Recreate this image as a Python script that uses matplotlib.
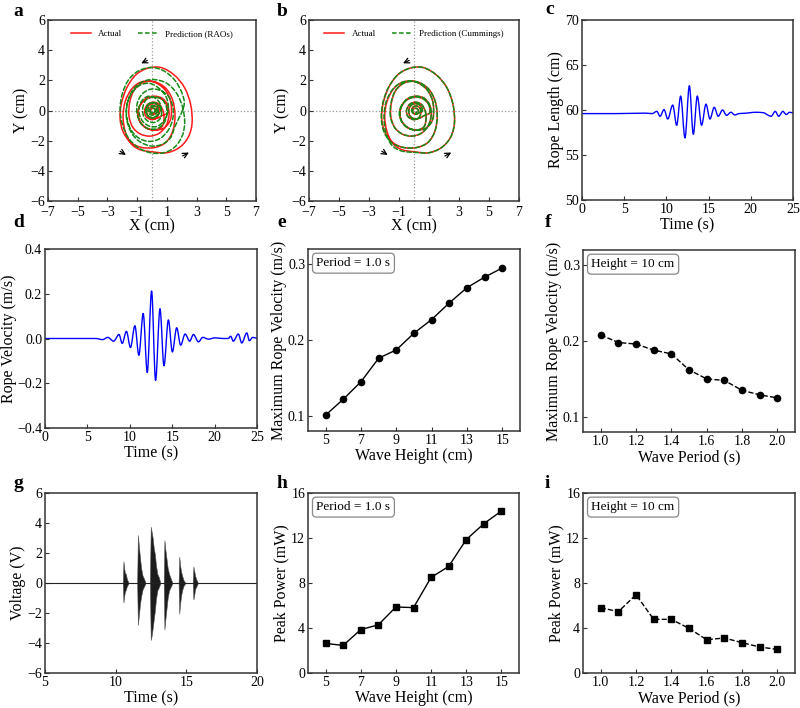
import matplotlib
matplotlib.use("Agg")
import matplotlib.pyplot as plt
from matplotlib.path import Path
from matplotlib.patches import PathPatch

plt.rcParams['font.family'] = ['Liberation Serif', 'DejaVu Serif']
plt.rcParams['mathtext.fontset'] = 'stix'

# ---------------- data ----------------
# (a)/(b) trajectory: actual
actual_x = [0.30, 0.27, 0.20, 0.10, 0.00, -0.07, -0.10, -0.07, 0.00, 0.10, 0.22, 0.32,
            0.55, 0.50, 0.35, 0.10, -0.15, -0.30, -0.35, -0.30, -0.15, 0.10, 0.40, 0.65,
            1.05, 1.00, 0.65, 0.15, -0.40, -0.80, -0.95, -0.80, -0.40, 0.15, 0.75, 1.15,
            1.30, 1.25, 0.85, 0.10, -0.70, -1.35, -1.80, -1.95, -1.80, -1.40, -0.80, 0.10, 1.00, 1.85, 2.45,
            2.70, 2.60, 2.20, 1.50, 0.60, -0.30, -1.10, -1.70, -2.05, -2.15, -1.95, -1.45, -0.70, 0.20, 0.95, 1.40,
            1.55, 1.40, 0.95, 0.20, -0.60, -1.20, -1.50, -1.55, -1.30, -0.80, -0.15, 0.50, 0.95,
            1.15, 1.05, 0.70, 0.15, -0.40, -0.80, -0.95, -0.80, -0.40, 0.15, 0.65,
            0.80, 0.75, 0.50, 0.10, -0.30, -0.50, -0.40, -0.05, 0.30, 0.45, 0.40, 0.15, -0.10, -0.15, 0.05, 0.20]
actual_y = [-0.05, 0.05, 0.12, 0.15, 0.12, 0.05, -0.05, -0.15, -0.22, -0.25, -0.22, -0.16,
            -0.05, 0.20, 0.38, 0.45, 0.38, 0.20, -0.05, -0.30, -0.48, -0.55, -0.50, -0.35,
            -0.15, 0.35, 0.75, 0.90, 0.75, 0.35, -0.20, -0.75, -1.15, -1.30, -1.20, -0.80,
            -0.30, 0.60, 1.40, 1.90, 1.90, 1.45, 0.60, -0.40, -1.40, -2.20, -2.60, -2.75, -2.80, -2.45, -1.75,
            -0.80, 0.40, 1.50, 2.35, 2.85, 2.80, 2.35, 1.50, 0.50, -0.50, -1.40, -2.10, -2.45, -2.45, -2.10, -1.35,
            -0.35, 0.65, 1.45, 1.90, 1.85, 1.35, 0.55, -0.35, -1.10, -1.55, -1.70, -1.50, -1.00,
            -0.30, 0.35, 0.80, 0.95, 0.80, 0.35, -0.20, -0.75, -1.15, -1.30, -1.10,
            -0.60, -0.05, 0.40, 0.55, 0.40, 0.00, -0.40, -0.60, -0.50, -0.20, 0.15, 0.30, 0.20, -0.05, -0.20, -0.10]

# (a) prediction (RAOs)
rao_x = [0.20, 0.15, 0.05, -0.07, -0.13, -0.10, 0.00, 0.12,
         0.30, 0.22, 0.02, -0.18, -0.27, -0.18, 0.02, 0.22,
         0.42, 0.32, 0.02, -0.28, -0.40, -0.28, 0.02, 0.32,
         0.60, 0.55, 0.25, -0.20, -0.60, -0.85, -0.85, -0.60, -0.15, 0.35, 0.75, 1.00,
         1.10, 0.95, 0.50, -0.15, -0.85, -1.40, -1.70, -1.70, -1.40, -0.85, -0.10, 0.65, 1.25, 1.55,
         2.15, 2.00, 1.50, 0.75, -0.10, -0.95, -1.60, -2.00, -2.15, -2.00, -1.60, -0.95, -0.10, 0.80, 1.55, 2.05, 2.20,
         2.05, 1.65, 1.00, 0.15, -0.65, -1.30, -1.65, -1.70, -1.40, -0.85, -0.15, 0.55, 1.10, 1.40,
         1.40, 1.10, 0.50, -0.15, -0.70, -1.00, -1.00, -0.75, -0.25, 0.35, 0.80, 1.00,
         0.95, 0.65, 0.15, -0.35, -0.60, -0.60, -0.35, 0.10, 0.50, 0.65,
         0.55, 0.25, -0.10, -0.35, -0.40, -0.20, 0.15, 0.40, 0.35, 0.10, -0.10, -0.10, 0.10, 0.20]
rao_y = [0.00, 0.12, 0.18, 0.14, 0.02, -0.12, -0.18, -0.14,
         0.05, 0.25, 0.32, 0.24, 0.02, -0.22, -0.32, -0.24,
         0.05, 0.38, 0.50, 0.38, 0.02, -0.36, -0.50, -0.38,
         0.00, 0.45, 0.80, 0.95, 0.75, 0.30, -0.25, -0.75, -1.05, -1.05, -0.75, -0.30,
         0.25, 0.90, 1.45, 1.80, 1.65, 1.10, 0.30, -0.60, -1.45, -2.05, -2.35, -2.25, -1.80, -1.05,
         0.30, 1.20, 2.05, 2.65, 2.85, 2.60, 2.00, 1.10, 0.10, -0.90, -1.80, -2.45, -2.80, -2.80, -2.40, -1.65, -0.75,
         0.25, 1.15, 1.80, 2.05, 1.90, 1.35, 0.50, -0.45, -1.30, -1.85, -2.05, -1.85, -1.30, -0.55,
         0.25, 0.95, 1.35, 1.40, 1.05, 0.45, -0.25, -0.85, -1.20, -1.20, -0.85, -0.30,
         0.30, 0.75, 0.90, 0.75, 0.30, -0.25, -0.65, -0.80, -0.60, -0.20,
         0.25, 0.50, 0.50, 0.25, -0.10, -0.40, -0.45, -0.20, 0.15, 0.30, 0.15, -0.10, -0.15, 0.00]

# (b) prediction (Cummings)
cum_x = [0.30, 0.27, 0.20, 0.10, 0.00, -0.07, -0.10, -0.07, 0.00, 0.10, 0.22, 0.32,
         0.55, 0.50, 0.35, 0.10, -0.15, -0.30, -0.35, -0.30, -0.15, 0.10, 0.40, 0.65,
         1.05, 1.00, 0.65, 0.15, -0.40, -0.82, -0.98, -0.82, -0.40, 0.15, 0.75, 1.15,
         1.30, 1.25, 0.85, 0.10, -0.70, -1.38, -1.85, -2.00, -1.88, -1.50, -0.85, 0.10, 1.00, 1.85, 2.45,
         2.70, 2.60, 2.20, 1.50, 0.60, -0.30, -1.10, -1.72, -2.08, -2.18, -2.00, -1.50, -0.72, 0.20, 0.95, 1.40,
         1.55, 1.40, 0.95, 0.20, -0.60, -1.22, -1.52, -1.58, -1.32, -0.80, -0.15, 0.50, 0.95,
         1.15, 1.05, 0.70, 0.15, -0.40, -0.80, -0.95, -0.80, -0.40, 0.15, 0.65,
         0.80, 0.75, 0.50, 0.10, -0.30, -0.50, -0.40, -0.05, 0.30, 0.45, 0.40, 0.15, -0.10, -0.15, 0.05, 0.20]
cum_y = [-0.05, 0.05, 0.12, 0.15, 0.12, 0.05, -0.05, -0.15, -0.22, -0.25, -0.22, -0.16,
         -0.05, 0.20, 0.38, 0.45, 0.38, 0.20, -0.05, -0.30, -0.48, -0.55, -0.50, -0.35,
         -0.15, 0.35, 0.75, 0.90, 0.75, 0.35, -0.20, -0.75, -1.15, -1.30, -1.20, -0.80,
         -0.30, 0.60, 1.40, 1.90, 1.90, 1.45, 0.60, -0.40, -1.45, -2.28, -2.68, -2.78, -2.80, -2.45, -1.75,
         -0.80, 0.40, 1.50, 2.35, 2.85, 2.80, 2.35, 1.50, 0.50, -0.50, -1.42, -2.12, -2.45, -2.45, -2.10, -1.35,
         -0.35, 0.65, 1.45, 1.90, 1.85, 1.35, 0.55, -0.35, -1.10, -1.55, -1.70, -1.50, -1.00,
         -0.30, 0.35, 0.80, 0.95, 0.80, 0.35, -0.20, -0.75, -1.15, -1.30, -1.10,
         -0.60, -0.05, 0.40, 0.55, 0.40, 0.00, -0.40, -0.60, -0.50, -0.20, 0.15, 0.30, 0.20, -0.05, -0.20, -0.10]

# (c) rope length vs time (extrema)
c_time = [0, 4, 7.5, 8.3, 8.86, 9.25, 9.72, 10.16, 10.75, 11.22, 11.69, 12.2, 12.72, 13.19, 13.66,
          14.17, 14.69, 15.16, 15.67, 16.14, 16.65, 17.13, 17.64, 18.1, 18.6, 19.5, 20.5, 21.5,
          22.0, 22.4, 22.9, 23.3, 23.8, 24.2, 24.6, 25]
c_length = [59.6, 59.6, 59.65, 59.6, 59.85, 59.3, 60.05, 59.0, 60.55, 58.3, 61.55, 56.9, 62.7, 57.3, 61.55,
            58.3, 60.65, 59.0, 60.3, 59.3, 60.0, 59.4, 59.75, 59.45, 59.6, 59.65, 59.75, 59.7,
            59.45, 59.3, 59.85, 59.3, 59.85, 59.5, 59.75, 59.65]

# (d) rope velocity vs time (extrema)
d_time = [0, 6.0, 6.8, 7.4, 8.1, 8.73, 9.1, 9.6, 10.08, 10.6, 11.07, 11.58, 12.06, 12.57, 13.04,
          13.56, 14.03, 14.55, 15.02, 15.53, 16.0, 16.52, 17.07, 17.5, 18.1, 18.6, 19.3, 20.0,
          21.0, 21.6, 21.9, 22.2, 22.8, 23.2, 23.8, 24.1, 24.5, 25]
d_velocity = [0, 0, -0.005, 0.005, -0.012, 0.018, -0.022, 0.032, -0.04, 0.057, -0.075, 0.112, -0.152, 0.212, -0.187,
              0.133, -0.122, 0.083, -0.06, 0.048, -0.03, 0.02, -0.012, 0.018, -0.015, 0.005, -0.003, 0.003,
              0.0, 0.0, 0.01, -0.012, 0.02, -0.02, 0.025, -0.01, 0.005, 0.0]

# (g) voltage bursts: envelope (time, upper, lower)
g_bursts_t = [[10.50, 10.55, 10.60, 10.65, 10.72, 10.80, 10.90],
              [11.52, 11.57, 11.65, 11.72, 11.80, 11.90, 12.00, 12.10],
              [12.42, 12.48, 12.55, 12.62, 12.70, 12.78, 12.85, 12.95, 13.05, 13.15],
              [13.40, 13.45, 13.52, 13.60, 13.68, 13.78, 13.90, 14.00],
              [14.45, 14.50, 14.56, 14.62, 14.70, 14.80, 14.90],
              [15.45, 15.50, 15.56, 15.62, 15.70, 15.80]]
g_bursts_hi = [[0, 1.45, 1.0, 0.7, 0.6, 0.25, 0.05],
               [0, 3.2, 2.4, 1.7, 1.0, 0.5, 0.3, 0.05],
               [0, 3.75, 3.4, 3.0, 2.3, 1.9, 1.2, 0.6, 0.4, 0.05],
               [0, 2.85, 2.2, 1.6, 1.0, 0.6, 0.3, 0.05],
               [0, 1.75, 1.2, 0.8, 0.5, 0.2, 0.05],
               [0, 1.1, 0.8, 0.5, 0.25, 0.05]]
g_bursts_lo = [[0, -1.3, -0.9, -0.6, -0.45, -0.2, -0.05],
               [0, -2.8, -2.1, -1.4, -0.9, -0.45, -0.25, -0.05],
               [0, -3.8, -3.5, -3.0, -2.4, -1.8, -1.1, -0.5, -0.3, -0.05],
               [0, -3.1, -2.4, -1.7, -1.0, -0.5, -0.25, -0.05],
               [0, -2.05, -1.4, -0.9, -0.5, -0.2, -0.05],
               [0, -1.1, -0.8, -0.4, -0.25, -0.05]]

# (e)/(h) vs wave height
wave_height = [5, 6, 7, 8, 9, 10, 11, 12, 13, 14, 15]
vmax_height = [0.101, 0.122, 0.145, 0.176, 0.187, 0.209, 0.227, 0.249, 0.269, 0.283, 0.295]
power_height = [2.63, 2.45, 3.86, 4.28, 5.87, 5.81, 8.5, 9.47, 11.86, 13.27, 14.4]

# (f)/(i) vs wave period
wave_period = [1.0, 1.1, 1.2, 1.3, 1.4, 1.5, 1.6, 1.7, 1.8, 1.9, 2.0]
vmax_period = [0.208, 0.198, 0.196, 0.188, 0.183, 0.162, 0.150, 0.148, 0.135, 0.129, 0.125]
power_period = [5.81, 5.45, 6.96, 4.77, 4.77, 3.97, 2.96, 3.11, 2.70, 2.31, 2.10]


# ---------------- smooth path helpers (Bezier curves through the data points) ----------------
def curve_through(x, y):
    """Catmull-Rom style cubic Bezier path passing through every (x, y)."""
    n = len(x)
    verts = [(x[0], y[0])]
    codes = [Path.MOVETO]
    for i in range(n - 1):
        i0 = max(i - 1, 0)
        i3 = min(i + 2, n - 1)
        c1 = (x[i] + (x[i + 1] - x[i0]) / 6.0, y[i] + (y[i + 1] - y[i0]) / 6.0)
        c2 = (x[i + 1] - (x[i3] - x[i]) / 6.0, y[i + 1] - (y[i3] - y[i]) / 6.0)
        verts += [c1, c2, (x[i + 1], y[i + 1])]
        codes += [Path.CURVE4] * 3
    return Path(verts, codes)


def monotone_through(x, y):
    """Monotone cubic (no overshoot) Bezier path through every (x, y); x increasing."""
    n = len(x)
    d = [(y[i + 1] - y[i]) / (x[i + 1] - x[i]) for i in range(n - 1)]
    m = [0.0] * n
    m[0], m[-1] = d[0], d[-1]
    for i in range(1, n - 1):
        if d[i - 1] * d[i] > 0:
            m[i] = 2.0 / (1.0 / d[i - 1] + 1.0 / d[i])
    verts = [(x[0], y[0])]
    codes = [Path.MOVETO]
    for i in range(n - 1):
        h = x[i + 1] - x[i]
        verts += [(x[i] + h / 3.0, y[i] + m[i] * h / 3.0),
                  (x[i + 1] - h / 3.0, y[i + 1] - m[i + 1] * h / 3.0),
                  (x[i + 1], y[i + 1])]
        codes += [Path.CURVE4] * 3
    return Path(verts, codes)


def draw_path(ax, path, **kw):
    ax.add_patch(PathPatch(path, fill=False, capstyle='round', joinstyle='round', **kw))


# ---------------- figure ----------------
W, H = 800, 708
fig = plt.figure(figsize=(8, 7.08), dpi=100)


def add_ax(x0, y0, x1, y1):
    return fig.add_axes([x0 / W, 1 - y1 / H, (x1 - x0) / W, (y1 - y0) / H])


TICK_FS = 10
LABEL_FS = 11.5


def style(ax):
    for s in ax.spines.values():
        s.set_color('#333333')
        s.set_linewidth(1.1)
    ax.tick_params(direction='in', length=3, width=0.8, labelsize=TICK_FS, color='#333333', pad=2)


def letter(x, y, s):
    fig.text(x / W, 1 - y / H, s, fontsize=14, fontweight='bold', va='top', ha='left')


axa = add_ax(48, 20, 256, 201)
axb = add_ax(309, 20, 519, 201)
axc = add_ax(582, 20, 793, 200)
axd = add_ax(45, 249, 257, 428)
axe = add_ax(308, 249, 520, 431)
axf = add_ax(583, 250, 795, 432)
axg = add_ax(45, 493, 257, 673)
axh = add_ax(308, 493, 519, 673)
axi = add_ax(583, 493, 795, 673)

RED = '#ff1a1a'
GREEN = '#158a15'

# (a) and (b)
for ax, px, py, lab in [(axa, rao_x, rao_y, 'Prediction (RAOs)'),
                        (axb, cum_x, cum_y, 'Prediction (Cummings)')]:
    style(ax)
    ax.tick_params(axis='x', pad=3.5)
    ax.axhline(0, color='#999999', ls=':', lw=0.9, zorder=0)
    ax.axvline(0, color='#999999', ls=':', lw=0.9, zorder=0)
    draw_path(ax, curve_through(actual_x, actual_y), edgecolor=RED, lw=1.1)
    draw_path(ax, curve_through(px, py), edgecolor=GREEN, lw=1.1, linestyle=(0, (3, 1.6)))
    ax.plot([], [], color=RED, lw=1.1, label='Actual')
    ax.plot([], [], color=GREEN, lw=1.1, ls=(0, (3, 1.6)), label=lab)
    ax.set_xlim(-7, 7)
    ax.set_ylim(-6, 6)
    ax.set_xticks([-7, -5, -3, -1, 1, 3, 5, 7])
    ax.set_yticks([-6, -4, -2, 0, 2, 4, 6])
    ax.set_xlabel('X (cm)', fontsize=LABEL_FS, labelpad=0)
    ax.set_ylabel('Y (cm)', fontsize=LABEL_FS, labelpad=1)
    ax.legend(loc='upper center', bbox_to_anchor=(0.5, 0.99), ncol=2, frameon=False,
              fontsize=6.5, handlelength=2.2, columnspacing=1.8)
    arrow = dict(arrowstyle='->', color='black', lw=0.9, mutation_scale=9)
    ax.annotate('', xy=(-0.9, 3.05), xytext=(-0.15, 3.4), arrowprops=arrow)
    ax.annotate('', xy=(-1.6, -3.05), xytext=(-2.3, -2.6), arrowprops=arrow)
    ax.annotate('', xy=(2.65, -2.7), xytext=(1.9, -3.1), arrowprops=arrow)

# (c)
style(axc)
draw_path(axc, monotone_through(c_time, c_length), edgecolor='blue', lw=1.0)
axc.set_xlim(0, 25)
axc.set_ylim(50, 70)
axc.set_xticks([0, 5, 10, 15, 20, 25])
axc.set_yticks([50, 55, 60, 65, 70])
axc.set_xlabel('Time (s)', fontsize=LABEL_FS, labelpad=1)
axc.set_ylabel('Rope Length (cm)', fontsize=LABEL_FS, labelpad=1)

# (d)
style(axd)
draw_path(axd, monotone_through(d_time, d_velocity), edgecolor='blue', lw=1.0)
axd.set_xlim(0, 25)
axd.set_ylim(-0.4, 0.4)
axd.set_xticks([0, 5, 10, 15, 20, 25])
axd.set_yticks([-0.4, -0.2, 0.0, 0.2, 0.4])
axd.set_yticklabels(['\u22120.4', '\u22120.2', '0.0', '0.2', '0.4'])
axd.set_xlabel('Time (s)', fontsize=LABEL_FS, labelpad=1)
axd.set_ylabel('Rope Velocity (m/s)', fontsize=LABEL_FS, labelpad=0)

# (g)
style(axg)
axg.plot([5, 20], [0, 0], color='#222222', lw=0.8)
for t, hi, lo in zip(g_bursts_t, g_bursts_hi, g_bursts_lo):
    axg.fill_between(t, lo, hi, color='#1c1c1c', lw=0.4, edgecolor='#555555')
axg.set_xlim(5, 20)
axg.set_ylim(-6, 6)
axg.set_xticks([5, 10, 15, 20])
axg.set_yticks([-6, -4, -2, 0, 2, 4, 6])
axg.set_xlabel('Time (s)', fontsize=LABEL_FS, labelpad=1)
axg.set_ylabel('Voltage (V)', fontsize=LABEL_FS, labelpad=1)

box = dict(boxstyle='round,pad=0.3', fc='white', ec='#888888', lw=0.9)

# (e)
style(axe)
axe.plot(wave_height, vmax_height, color='black', lw=1.0, marker='o', ms=4.5)
axe.set_xlim(4, 16)
axe.set_ylim(0.08, 0.32)
axe.set_xticks([5, 7, 9, 11, 13, 15])
axe.set_yticks([0.1, 0.2, 0.3])
axe.set_xlabel('Wave Height (cm)', fontsize=LABEL_FS, labelpad=1)
axe.set_ylabel('Maximum Rope Velocity (m/s)', fontsize=LABEL_FS, labelpad=1)
axe.text(0.04, 0.955, 'Period = 1.0 s', transform=axe.transAxes, fontsize=9.5, va='top', bbox=box)

# (f)
style(axf)
axf.plot(wave_period, vmax_period, color='black', lw=1.0, ls='--', marker='o', ms=4.5)
axf.set_xlim(0.9, 2.1)
axf.set_ylim(0.08, 0.32)
axf.set_xticks([1.0, 1.2, 1.4, 1.6, 1.8, 2.0])
axf.set_yticks([0.1, 0.2, 0.3])
axf.set_xlabel('Wave Period (s)', fontsize=LABEL_FS, labelpad=1)
axf.set_ylabel('Maximum Rope Velocity (m/s)', fontsize=LABEL_FS, labelpad=1)
axf.text(0.04, 0.955, 'Height = 10 cm', transform=axf.transAxes, fontsize=9.5, va='top', bbox=box)

# (h)
style(axh)
axh.plot(wave_height, power_height, color='black', lw=1.0, marker='s', ms=4.5)
axh.set_xlim(4, 16)
axh.set_ylim(0, 16)
axh.set_xticks([5, 7, 9, 11, 13, 15])
axh.set_yticks([0, 4, 8, 12, 16])
axh.set_xlabel('Wave Height (cm)', fontsize=LABEL_FS, labelpad=1)
axh.set_ylabel('Peak Power (mW)', fontsize=LABEL_FS, labelpad=1)
axh.text(0.04, 0.955, 'Period = 1.0 s', transform=axh.transAxes, fontsize=9.5, va='top', bbox=box)

# (i)
style(axi)
axi.plot(wave_period, power_period, color='black', lw=1.0, ls='--', marker='s', ms=4.5)
axi.set_xlim(0.9, 2.1)
axi.set_ylim(0, 16)
axi.set_xticks([1.0, 1.2, 1.4, 1.6, 1.8, 2.0])
axi.set_yticks([0, 4, 8, 12, 16])
axi.set_xlabel('Wave Period (s)', fontsize=LABEL_FS, labelpad=1)
axi.set_ylabel('Peak Power (mW)', fontsize=LABEL_FS, labelpad=1)
axi.text(0.04, 0.955, 'Height = 10 cm', transform=axi.transAxes, fontsize=9.5, va='top', bbox=box)

for x, y, s in [(13, 3, 'a'), (277, 3, 'b'), (545, 1, 'c'),
                (13, 214, 'd'), (277, 214, 'e'), (545, 214, 'f'),
                (13, 475, 'g'), (277, 475, 'h'), (545, 475, 'i')]:
    letter(x, y, s)

fig.savefig('out.png', dpi=100)
